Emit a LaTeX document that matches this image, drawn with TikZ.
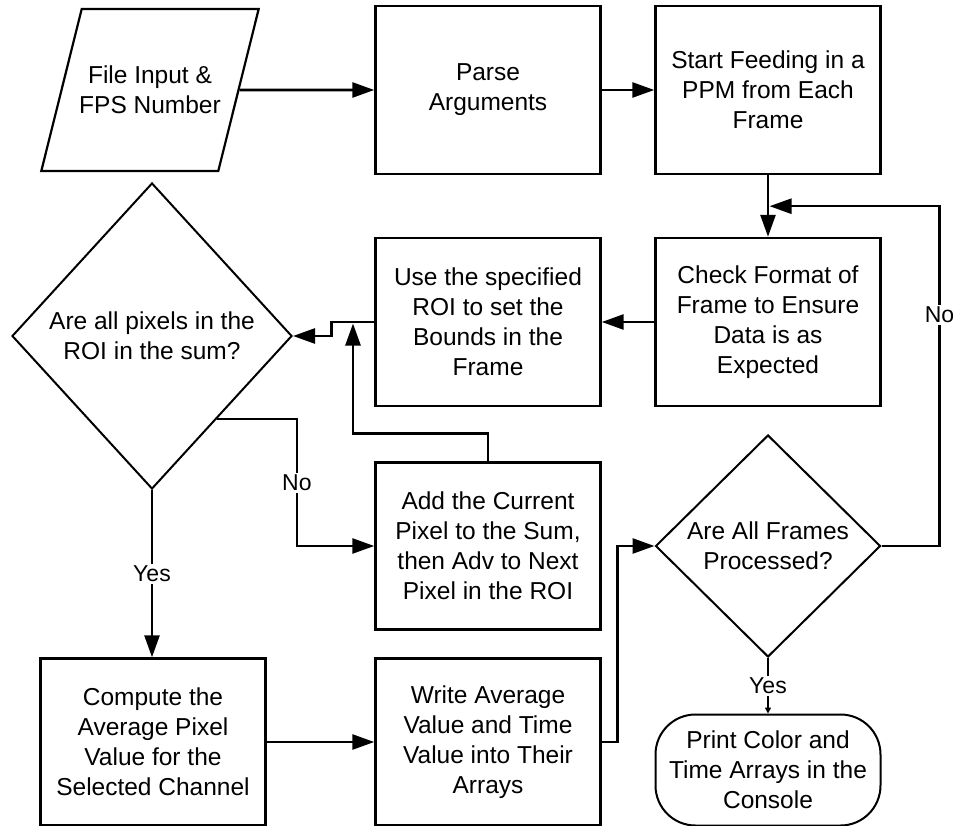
\documentclass[tikz,border=0pt]{standalone}
\usepackage{fontspec}
\setmainfont{Liberation Sans}
\usetikzlibrary{arrows.meta,shapes.geometric,calc}

\begin{document}
\begin{tikzpicture}[x=1pt, y=-1pt,
    box/.style={draw, rectangle, line width=2.4pt, minimum width=225pt, minimum height=168pt, align=center, font=\fontsize{24.5}{30}\selectfont},
    decision/.style={draw, diamond, line width=2pt, inner sep=0pt, align=center, font=\fontsize{24.5}{30}\selectfont},
    arr/.style={line width=2.6pt, -{Triangle[length=22pt,width=15pt]}},
    lbl/.style={fill=white, inner sep=2pt, font=\fontsize{23}{26}\selectfont}]
    \useasboundingbox (0,0) rectangle (953,826);

    % top row
    \node at (150,90) [draw, trapezium, trapezium left angle=76, trapezium right angle=104, line width=2.2pt, inner xsep=-2.5pt, inner ysep=57pt, align=center, font=\fontsize{24.5}{30}\selectfont] (input) {File Input \&\\FPS Number};
    \node at (488,90) [box] (parse) {Parse\\Arguments};
    \node at (768,90) [box] (feed) {Start Feeding in a\\PPM from Each\\Frame};

    % middle rows
    \node at (768,322) [box] (check) {Check Format of\\Frame to Ensure\\Data is as\\Expected};
    \node at (488,322) [box] (roi) {Use the specified\\ROI to set the\\Bounds in the\\Frame};
    \node at (152,336) [decision, minimum width=280pt, minimum height=306pt] (allpix) {Are all pixels in the\\ROI in the sum?};
    \node at (488,546) [box, minimum height=167pt] (addpix) {Add the Current\\Pixel to the Sum,\\then Adv to Next\\Pixel in the ROI};
    \node at (768,546) [decision, minimum width=225pt, minimum height=222pt] (frames) {Are All Frames\\Processed?};

    % bottom row
    \node at (153,742) [box, minimum height=167pt] (compute) {Compute the\\Average Pixel\\Value for the\\Selected Channel};
    \node at (488,742) [box, minimum height=167pt] (write) {Write Average\\Value and Time\\Value into Their\\Arrays};
    \node at (768,770) [box, rounded corners=40pt, line width=2pt, minimum height=111pt] (print) {Print Color and\\Time Arrays in the\\Console};

    \draw[arr] (input) -- (parse);
    \draw[arr] (parse) -- (feed);
    \draw[arr] (feed) -- (check);
    \draw[arr] (check) -- (roi);
    \draw[arr] (roi.west) -- ++(-43,0) |- (allpix.east);
    \draw[arr] (addpix.north) -- ++(0,-28) -| (353,323.5);
    \draw[arr] ($(allpix.east)!0.54!(allpix.south)$) -- ++(80,0) |- (addpix.west) node[pos=0.25, lbl] {No};
    \draw[arr] (allpix.south) -- (allpix.south |- compute.north) node[midway, lbl] {Yes};
    \draw[arr] (compute) -- (write);
    \draw[arr] (write.east) -- ++(16,0) |- (frames.west);
    \draw[arr] (frames.east) -- ++(58,0) |- ($(feed.south)+(1.5,31)$) node[pos=0.34, lbl] {No};
    \draw[line width=2.6pt, -{Triangle[length=6pt,width=6pt]}] (frames.south) -- (print.north) node[midway, lbl] {Yes};
\end{tikzpicture}
\end{document}
